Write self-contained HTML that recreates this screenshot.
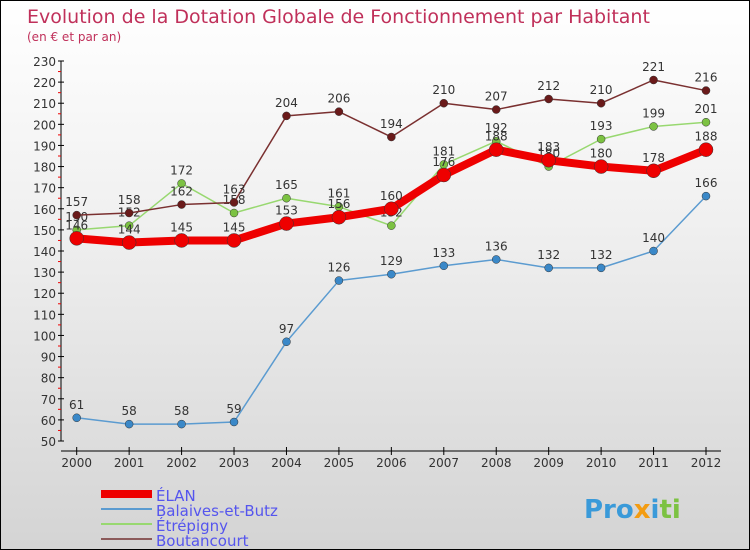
<!DOCTYPE html>
<html><head><meta charset="utf-8"><style>
body{margin:0}
#c{width:750px;height:550px;position:relative;box-sizing:border-box;border:1px solid #000;background:linear-gradient(#fff,#f0f0f0 40%,#d4d4d4);font-family:"DejaVu Sans","Liberation Sans",sans-serif;overflow:hidden}
svg text{font-family:"DejaVu Sans","Liberation Sans",sans-serif}
</style></head><body>
<div id="c">
<svg id="s" width="750" height="550">
<text x="26" y="22" font-size="19" fill="#c0305a">Evolution de la Dotation Globale de Fonctionnement par Habitant</text>
<text x="26" y="40" font-size="12" fill="#c0305a">(en € et par an)</text>
<g id="axes"></g><g id="series"></g><g id="legend"></g>
<text x="583" y="517" font-size="26" font-weight="bold" fill="#3a9ad9">Pro<tspan fill="#f39c12">x</tspan><tspan fill="#3a9ad9">i</tspan><tspan fill="#7cc242">ti</tspan></text>
</svg></div>
<script>
const years=["2000","2001","2002","2003","2004","2005","2006","2007","2008","2009","2010","2011","2012"];
const yTicks=[50,60,70,80,90,100,110,120,130,140,150,160,170,180,190,200,210,220,230];
const elan=[146,144,145,145,153,156,160,176,188,183,180,178,188];
const balaives=[61,58,58,59,97,126,129,133,136,132,132,140,166];
const etrepigny=[150,152,172,158,165,161,152,181,192,180,193,199,201];
const boutancourt=[157,158,162,163,204,206,194,210,207,212,210,221,216];
const NS="http://www.w3.org/2000/svg";
const X=i=>75.7+i*(705-75.7)/12;
const Y=v=>440-(v-50)*(380/180);
function mk(t,a,p){const e=document.createElementNS(NS,t);for(const k in a)e.setAttribute(k,a[k]);p.appendChild(e);return e;}
const ax=document.getElementById('axes');
let yl=mk('line',{x1:60,y1:Y(230),x2:60,y2:440,stroke:'#000'},ax);


let xl=mk('line',{x1:60,y1:450,x2:720,y2:450,stroke:'#000'},ax);


yTicks.forEach(v=>{
 mk('line',{x1:57,y1:Y(v),x2:63,y2:Y(v),stroke:'#000'},ax);
 if(v<230)mk('line',{x1:57,y1:Y(v+5),x2:60,y2:Y(v+5),stroke:'#e00'},ax);
 const t=mk('text',{x:55,y:Y(v)+5,'text-anchor':'end','font-size':12,fill:'#333'},ax);t.textContent=v;
 
 
});
years.forEach((y,i)=>{
 mk('line',{x1:X(i),y1:446,x2:X(i),y2:454,stroke:'#000'},ax);
 const t=mk('text',{x:X(i),y:466,'text-anchor':'middle','font-size':12,fill:'#333'},ax);t.textContent=y;
 
 
});
const sg=document.getElementById('series');
function draw(data,color,w,r,name,dot){
 const g=mk('g',{},sg);
 
 
 mk('polyline',{points:data.map((v,i)=>X(i)+','+Y(v)).join(' '),fill:'none',stroke:color,'stroke-width':w,'stroke-linejoin':'round'},g);
 data.forEach((v,i)=>{
  const c=mk('circle',{cx:X(i),cy:Y(v),r:r,fill:dot,stroke:'#333','stroke-width':0.5},g);
  
  
  const t=mk('text',{x:X(i),y:Y(v)-9,'text-anchor':'middle','font-size':12,fill:'#333'},g);t.textContent=v;
  
  
 });
}
draw(balaives,'#5b9bd0',1.5,4,'series-balaives','#3a88c8');
draw(etrepigny,'#98d870',1.5,4,'series-etrepigny','#7cc242');
draw(boutancourt,'#7a3030',1.5,4,'series-boutancourt','#6a1a1a');
draw(elan,'#ee0000',8,7,'series-elan','#ee0000');
const lg=document.getElementById('legend');
[['ÉLAN','#ee0000',8],['Balaives-et-Butz','#5b9bd0',2],['Étrépigny','#98d870',2],['Boutancourt','#8b5a5a',2]].forEach((d,i)=>{
 const g=mk('g',{},lg);
 
 
 const y=493+i*15;
 mk('line',{x1:100,y1:y,x2:151,y2:y,stroke:d[1],'stroke-width':d[2]},g);
 const t=mk('text',{x:155,y:y+7,'font-size':15,fill:'#5555ee'},g);t.textContent=d[0];
});
</script></body></html>
